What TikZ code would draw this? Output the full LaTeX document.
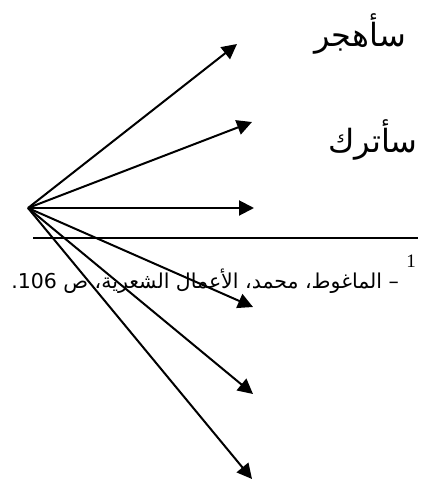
\documentclass[tikz,border=0pt]{standalone}
\usepackage{fontspec}
\usetikzlibrary{arrows.meta}
\TeXXeTstate=1
\newfontfamily\arabicfont[Script=Arabic]{DejaVu Sans}
\newfontfamily\notenum{Liberation Serif}
\begin{document}
\begin{tikzpicture}[x=1pt,y=-1pt,
  arr/.style={line width=2pt,-{Triangle[length=15pt,width=15pt]}},
  lbl/.style={font=\arabicfont\fontsize{32}{36}\selectfont,inner sep=0pt,anchor=east},
  note/.style={font=\arabicfont\fontsize{20.5}{24}\selectfont,inner sep=0pt,anchor=east}]
\useasboundingbox (0,0) rectangle (428,480);
\coordinate (o) at (28,208);
\coordinate (t1) at (237,44);
\coordinate (t2) at (252,122);
\coordinate (t3) at (254,208);
\coordinate (t4) at (253,307);
\coordinate (t5) at (253,394);
\coordinate (t6) at (252,479);
\node[lbl] (l1) at (406,34) {\beginR سأهجر\endR};
\node[lbl] (l2) at (418,140) {\beginR سأترك\endR};
\coordinate (h1) at (33,238);
\coordinate (h2) at (418,238);
\draw[line width=1.5pt] (h1) -- (h2);
\node[inner sep=0pt,font=\notenum\fontsize{19}{21}\selectfont] (fn) at (411,261) {1};
\node[note] (ref) at (399,281) {\beginR – الماغوط، محمد، الأعمال الشعرية، ص \beginL106\endL.\endR};
\foreach \t in {t1,t2,t3,t4,t5,t6} \draw[arr] (o) -- (\t);
\end{tikzpicture}
\end{document}
